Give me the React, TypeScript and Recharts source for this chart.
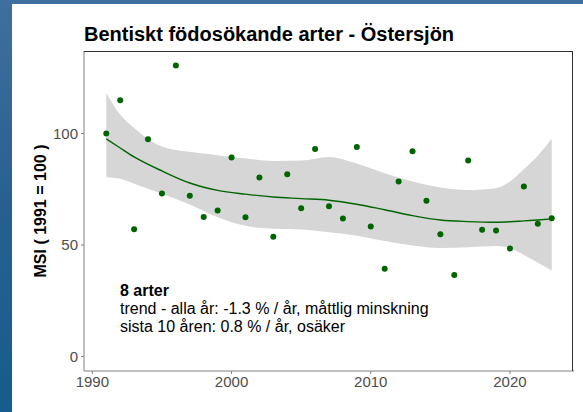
import React from "react";
import {
  ComposedChart,
  Area,
  Line,
  Scatter,
  XAxis,
  YAxis,
} from "recharts";

// yearly index values (dots)
const YEARS = [
  1991, 1992, 1993, 1994, 1995, 1996, 1997, 1998, 1999, 2000, 2001, 2002,
  2003, 2004, 2005, 2006, 2007, 2008, 2009, 2010, 2011, 2012, 2013, 2014,
  2015, 2016, 2017, 2018, 2019, 2020, 2021, 2022, 2023,
];
const MSI = [
  100, 114.9, 57.1, 97.4, 73.1, 130.5, 72.1, 62.6, 65.5, 89.2, 62.5, 80.3,
  53.7, 81.7, 66.5, 93.1, 67.4, 61.9, 93.9, 58.3, 39.3, 78.5, 92.1, 69.8,
  54.8, 36.5, 87.9, 56.8, 56.5, 48.4, 76.2, 59.5, 62.0,
];

// smoothed trend with confidence band
const SMOOTH_YEARS = [
  1991, 1992, 1993, 1995, 1997, 1999, 2001, 2003, 2005, 2007, 2009, 2011,
  2013, 2015, 2017, 2019, 2020, 2021, 2022, 2023,
];
const TREND = [
  97.6, 93.5, 89.5, 83.2, 77.8, 74.5, 72.8, 71.5, 70.8, 70.1, 68.3, 65.8,
  63.2, 61.2, 60.5, 60.2, 60.4, 60.8, 61.2, 61.7,
];
const UPPER = [
  118.2, 108.5, 102.5, 94.2, 91.8, 90.3, 88.8, 87.7, 87.9, 89.5, 86.5, 82.2,
  78.5, 75.8, 74.7, 75.5, 78.5, 84, 90, 97.6,
];
const LOWER = [
  80.4, 79.7, 77.5, 73.0, 68.2, 62.5, 58.6, 57.3, 57.0, 55.7, 54.2, 51.8,
  49.8, 48.7, 49.0, 49.5, 48.5, 45.5, 42, 38.6,
];

const X_TICKS = [1990, 2000, 2010, 2020];
const Y_TICKS = [0, 50, 100];

const TITLE = "Bentiskt födosökande arter - Östersjön";
const Y_LABEL = "MSI ( 1991 = 100 )";
const NOTE_HEAD = "8 arter";
const NOTE_LINES = [
  "trend - alla år: -1.3 % / år, måttlig minskning",
  "sista 10 åren: 0.8 % / år, osäker",
];

const FONT = "'Liberation Sans', Arial, sans-serif";
const GREEN = "#006400";

const points = YEARS.map((year, i) => ({ year, msi: MSI[i] }));
const smooth = SMOOTH_YEARS.map((year, i) => ({
  year,
  trend: TREND[i],
  band: [LOWER[i], UPPER[i]],
}));

const Dot = (props: any) => (
  <circle cx={props.cx} cy={props.cy} r={3} fill={GREEN} />
);

export default function App() {
  return (
    <div
      style={{
        position: "absolute",
        left: 0,
        top: 0,
        width: 583,
        height: 412,
        overflow: "hidden",
        background: "linear-gradient(180deg, #3f6f9f 0%, #27608f 50%, #175c8c 100%)",
        fontFamily: FONT,
      }}
    >
      {/* white plot card */}
      <div
        style={{
          position: "absolute",
          left: 12,
          top: 4,
          right: 0,
          bottom: 0,
          background: "#ffffff",
        }}
      />

      <div style={{ position: "absolute", left: 0, top: 0 }}>
        <ComposedChart
          width={583}
          height={412}
          data={smooth}
          margin={{ top: 51, right: 9, bottom: 0, left: 0 }}
        >
          <XAxis
            dataKey="year"
            type="number"
            domain={[1989.4, 2024.6]}
            ticks={X_TICKS}
            allowDataOverflow
            height={41}
            tickSize={3}
            tickMargin={2}
            stroke="#808080"
            tick={{ fill: "#4d4d4d", fontSize: 15, fontFamily: FONT }}
          />
          <YAxis
            type="number"
            domain={[-6.5, 137]}
            ticks={Y_TICKS}
            allowDataOverflow
            width={84}
            tickSize={3}
            tickMargin={3}
            stroke="#808080"
            tick={{ fill: "#4d4d4d", fontSize: 15, fontFamily: FONT }}
          />
          <Area
            dataKey="band"
            type="monotone"
            stroke="none"
            fill="#d6d6d6"
            fillOpacity={1}
            isAnimationActive={false}
          />
          <Scatter
            data={points}
            dataKey="msi"
            shape={Dot}
            isAnimationActive={false}
          />
          <Line
            dataKey="trend"
            type="monotone"
            stroke={GREEN}
            strokeWidth={1.4}
            dot={false}
            isAnimationActive={false}
          />
        </ComposedChart>
      </div>

      {/* panel border */}
      <div
        style={{
          position: "absolute",
          left: 84,
          top: 51,
          width: 489,
          height: 320,
          borderTop: "1px solid #333",
          borderRight: "1px solid #333",
          boxSizing: "border-box",
          pointerEvents: "none",
        }}
      />

      <div
        style={{
          position: "absolute",
          left: 84,
          top: 22,
          fontSize: 20,
          fontWeight: "bold",
          color: "#000",
          lineHeight: "24px",
          whiteSpace: "nowrap",
        }}
      >
        {TITLE}
      </div>

      <div
        style={{
          position: "absolute",
          left: 41 - 100,
          top: 211 - 10,
          width: 200,
          height: 20,
          lineHeight: "20px",
          textAlign: "center",
          fontSize: 16,
          fontWeight: "bold",
          color: "#000",
          transform: "rotate(-90deg)",
          whiteSpace: "nowrap",
        }}
      >
        {Y_LABEL}
      </div>

      <div
        style={{
          position: "absolute",
          left: 120,
          top: 282,
          fontSize: 16,
          lineHeight: "18px",
          color: "#000",
          whiteSpace: "nowrap",
        }}
      >
        <div style={{ fontWeight: "bold" }}>{NOTE_HEAD}</div>
        {NOTE_LINES.map((t) => (
          <div key={t}>{t}</div>
        ))}
      </div>
    </div>
  );
}
